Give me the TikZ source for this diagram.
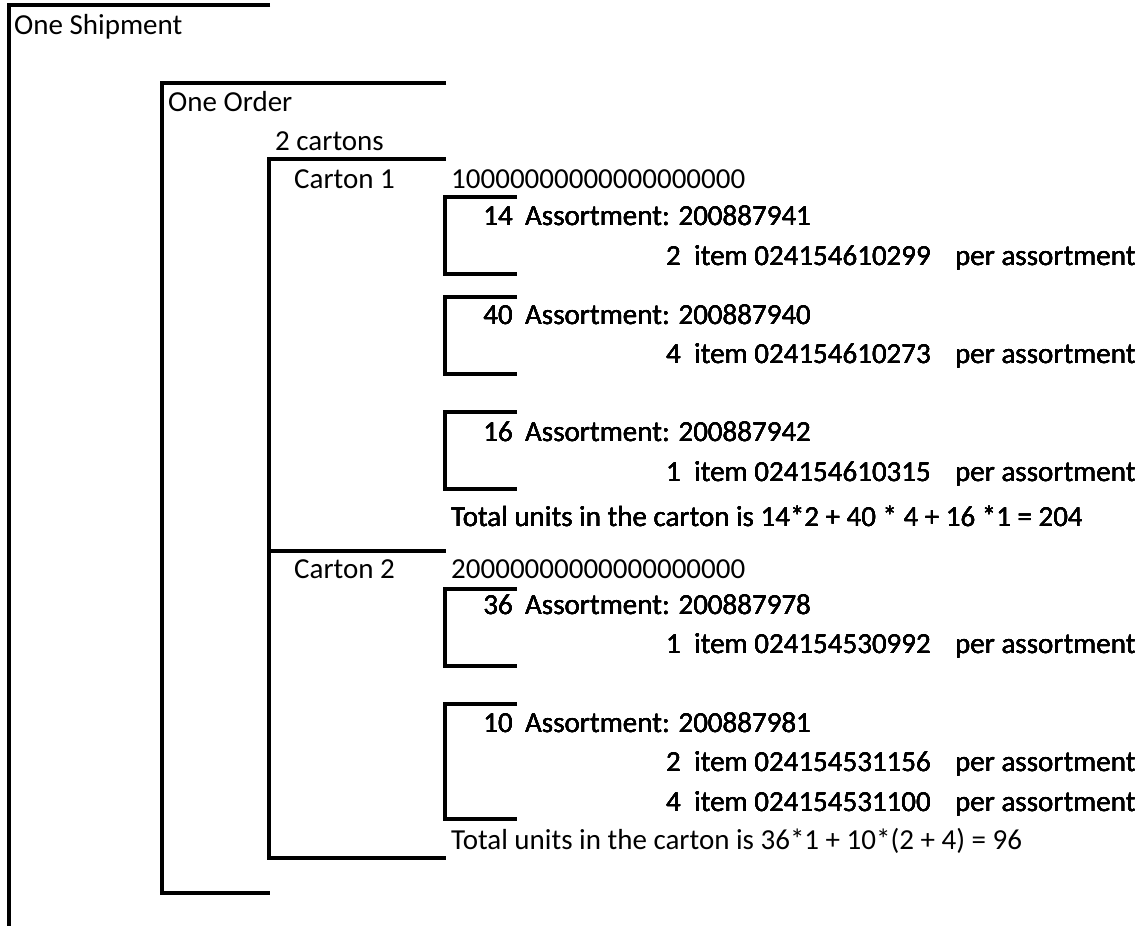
\documentclass[tikz,border=0pt]{standalone}
\usepackage{fontspec}
\setmainfont{Carlito}
\usetikzlibrary{positioning}
\tikzset{
  rule/.style={line width=3.2pt},
  cell/.style={anchor=base west,inner sep=0pt,font=\fontsize{29}{31}\selectfont},
  qty/.style={cell,anchor=base east}}
\newcommand{\bracket}[4]{% <left x> <top y> <bottom y> <right x>
  \draw[rule] (#4,#2) -- (#1,#2) -- (#1,#3) -- (#4,#3);}

\begin{document}
\begin{tikzpicture}[x=1pt,y=-1pt]
  \useasboundingbox (0,0) rectangle (1143,926);
  % shipment, order and cartons
  \draw[rule] (270,5) -- (9,5) -- (9,930);
  \node[cell] (ship) at (14,34) {One Shipment};
  \draw[rule] (446,83) -- (162,83) -- (162,893) -- (270,893);
  \node[cell] (order) at (168,111) {One Order};
  \node[cell] (ncart) at (275,150) {2 cartons};
  \bracket{269}{159}{858}{446}
  \draw[rule] (269,551) -- (446,551);
  \node[cell] (cart1) at (294,188) {Carton 1};
  \node[cell] (code1) at (451,188) {10000000000000000000};
  \node[cell] (cart2) at (294,578) {Carton 2};
  \node[cell] (code2) at (451,578) {20000000000000000000};
  % assortments
  \foreach \t/\b in {197/274,297/374,412/489,589/666,704/819} \bracket{445}{\t}{\b}{517}
  \foreach \k/\n/\y/\id in {1/14/225/200887941,2/40/324/200887940,3/16/441/200887942,
      4/36/614/200887978,5/10/732/200887981} {
    \node[qty] (an\k) at (513,\y) {\n};
    \node[cell] (as\k) at (525,\y) {Assortment: \id};}
  \foreach \k/\q/\y/\code in {1/2/265/024154610299,2/4/363/024154610273,3/1/481/024154610315,
      4/1/653/024154530992,5/2/771/024154531156,6/4/811/024154531100} {
    \node[qty] (iq\k) at (681,\y) {\q};
    \node[cell] (it\k) at (694,\y) {item \code};
    \node[cell] (pa\k) at (955,\y) {per assortment};}
  \node[cell] (tot1) at (451,526) {Total units in the carton is 14*2 + 40 * 4 + 16 *1 = 204};
  \node[cell] (tot2) at (451,849) {Total units in the carton is 36*1 + 10*(2 + 4) = 96};
\end{tikzpicture}
\end{document}
